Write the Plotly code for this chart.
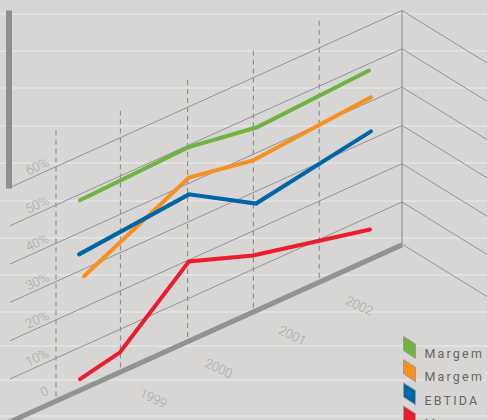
import plotly.graph_objects as go

# Skewed-wall projection: horizontal position from year, vertical from percent
X_AT_1998 = 56.0
PX_PER_YEAR = 65.8
BACK_X = 402.0
ZERO_AT_BACK = 240.3
FLOOR_SLOPE = 0.4515
PX_PER_PCT = 3.83
WALL_SLOPE = 0.617


def px(year):
    return X_AT_1998 + (year - 1998) * PX_PER_YEAR


def py(year, pct):
    return ZERO_AT_BACK + (BACK_X - px(year)) * FLOOR_SLOPE - pct * PX_PER_PCT


# Series: year position along the floor and margin in percent
green_years = [1998.365, 2000.006, 2001.055, 2002.757]
green_pct = [48.4, 49.5, 46.6, 48.2]
orange_years = [1998.426, 2000.021, 2000.994, 2002.787]
orange_pct = [28.1, 41.5, 38.4, 41.0]
blue_years = [1998.35, 2000.021, 2001.04, 2002.787]
blue_pct = [34.4, 37.1, 26.8, 32.1]
red_years = [1998.365, 1998.973, 2000.021, 2000.994, 2002.772]
red_pct = [1.7, 4.0, 19.6, 13.6, 6.6]

levels = [10, 20, 30, 40, 50, 60]
level_labels = ["10%", "20%", "30%", "40%", "50%", "60%"]
year_marks = [1998, 1998.98, 2000, 2001, 2002]
year_mark_tops = [69.5, 67.0, 67.2, 67.3, 67.8]
year_labels = ["1999", "2000", "2001", "2002"]
year_label_pos = [1999.489, 2000.477, 2001.6, 2002.605]
legend_names = ["Margem", "Margem", "EBTIDA", "Margem"]
legend_colors = ["#6eb43f", "#f7901e", "#0065a4", "#ed1c2c"]

BG = "#d7d6d4"
STRIPE = "#e2e1df"
GRID = "#929290"
HEAVY = "#929391"
LABEL = "#a6a6a4"
stripe_rows = [14, 51, 88, 126, 163, 201, 238, 275, 312, 346, 380, 416]

LEFT_YEAR = 1998 + (10 - X_AT_1998) / PX_PER_YEAR
BACK_YEAR = 1998 + (BACK_X - X_AT_1998) / PX_PER_YEAR
FAR_LEFT_YEAR = 1998 + (-10 - X_AT_1998) / PX_PER_YEAR

fig = go.Figure()


def add_line(xs, ys, color, width, dash=None):
    fig.add_trace(go.Scatter(x=xs, y=ys, mode="lines", hoverinfo="skip", showlegend=False,
                             line=dict(color=color, width=width, dash=dash)))


# Horizontal banding behind the chart
for row in stripe_rows:
    add_line([0, 487], [row, row], STRIPE, 2)

# Percent lines across the long wall and on down the side wall
for lv in levels:
    add_line([px(LEFT_YEAR), BACK_X], [py(LEFT_YEAR, lv), py(BACK_YEAR, lv)], GRID, 1)
for lv in [-1] + levels:
    y0 = py(BACK_YEAR, lv)
    add_line([BACK_X, 490], [y0, y0 + (490 - BACK_X) * WALL_SLOPE], GRID, 1)

# Upright dashed markers for each year
for yr, top in zip(year_marks, year_mark_tops):
    add_line([px(yr), px(yr)], [py(yr, 0), py(yr, top)], "#8f8f8d", 1.2, "5px,4px")

# Back corner, floor edge and left upright
add_line([BACK_X, BACK_X], [py(BACK_YEAR, 60), py(BACK_YEAR, -1)], GRID, 1.2)
add_line([px(FAR_LEFT_YEAR), BACK_X], [py(FAR_LEFT_YEAR, -1.2), py(BACK_YEAR, -1.2)], HEAVY, 5)
add_line([9, 9], [py(LEFT_YEAR, 60) + 1, py(BACK_YEAR, 60)], "#8e8f8d", 6)

# Margin series
for yrs, vals, col in [(green_years, green_pct, legend_colors[0]),
                       (orange_years, orange_pct, legend_colors[1]),
                       (blue_years, blue_pct, legend_colors[2]),
                       (red_years, red_pct, legend_colors[3])]:
    add_line([px(v) for v in yrs], [py(a, b) for a, b in zip(yrs, vals)], col, 4)

# Legend swatches on the side-wall skew
for i, col in enumerate(legend_colors):
    top = 336.5 + i * 23.2
    fig.add_trace(go.Scatter(x=[403.5, 415.5, 415.5, 403.5, 403.5],
                             y=[top, top + 7.5, top + 22, top + 14, top],
                             mode="lines", fill="toself", fillcolor=col, hoverinfo="skip",
                             showlegend=False, line=dict(color="#9a9a98", width=1)))

annotations = []


def add_text(x, y, text, angle=0, size=12, color=LABEL, anchor="center"):
    annotations.append(dict(x=x, y=y, text=text, textangle=angle, showarrow=False,
                            xanchor=anchor, yanchor="middle", xref="x", yref="y",
                            font=dict(family="Roboto", size=size, color=color, weight=300)))


LABEL_YEAR = 1998 + (37 - X_AT_1998) / PX_PER_YEAR
for lv, lab in zip(levels, level_labels):
    add_text(px(LABEL_YEAR), py(LABEL_YEAR, lv + 2.4), lab, -25, 13)
ZERO_YEAR = 1998 + (44 - X_AT_1998) / PX_PER_YEAR
add_text(px(ZERO_YEAR), py(ZERO_YEAR, 2.6), "0", -25, 13)

for pos, lab in zip(year_label_pos, year_labels):
    add_text(px(pos), py(pos, -12), lab, 25, 13)

# Legend names sit in page coordinates so the last row can run off the bottom edge
for i, name in enumerate(legend_names):
    annotations.append(dict(x=428.5 / 487, y=1 - (353.5 + i * 23.3) / 420, text=name, showarrow=False,
                            xanchor="left", yanchor="middle", xref="paper", yref="paper",
                            font=dict(family="Roboto", size=12.5, color="#666664")))

fig.update_layout(
    width=487, height=420, autosize=False,
    margin=dict(l=0, r=0, t=0, b=0, pad=0),
    paper_bgcolor=BG, plot_bgcolor=BG,
    xaxis=dict(range=[0, 487], visible=False, fixedrange=True),
    yaxis=dict(range=[420, 0], visible=False, fixedrange=True),
    annotations=annotations,
    showlegend=False,
)

# Rounded line ends and tracked legend lettering
finish = """
var gd = document.querySelector('.js-plotly-plot');
gd.querySelectorAll('.js-line').forEach(function (p) {
  if (parseFloat(p.style.strokeWidth) === 4) { p.style.strokeLinecap = 'round'; }
});
gd.querySelectorAll('.annotation-text').forEach(function (t) {
  if (t.textContent.length > 4 && t.textContent.indexOf('%') < 0) { t.style.letterSpacing = '2.2px'; }
});
"""
fig.write_html("out.html", post_script=finish, config={"displayModeBar": False})
